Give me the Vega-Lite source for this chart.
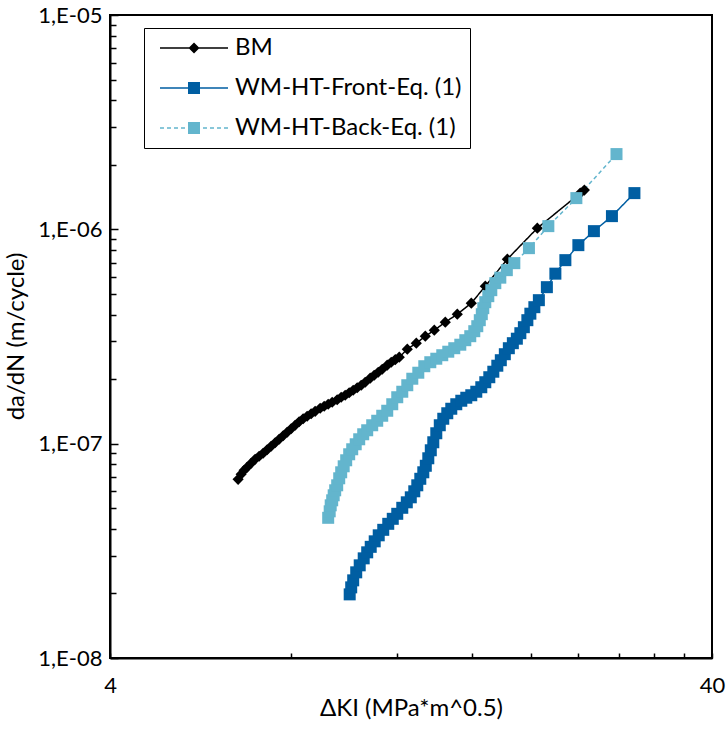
{
  "$schema": "https://vega.github.io/schema/vega-lite/v6.json",
  "width": 602,
  "height": 643,
  "autosize": {"type": "none"},
  "padding": {"left": 110, "top": 15, "right": 14, "bottom": 72},
  "background": "white",
  "config": {
    "view": {"stroke": "black", "strokeWidth": 2},
    "font": "Lato",
    "axis": {"labelFont": "Lato", "titleFont": "Lato", "labelColor": "black", "titleColor": "black", "domainColor": "black", "domainWidth": 2, "tickColor": "black", "tickWidth": 1.5, "grid": false, "labelFontSize": 22, "titleFontSize": 24, "titleFontWeight": "normal", "labelOverlap": false, "labelFlush": false},
    "legend": {"symbolOpacity": 1, "symbolStrokeWidth": 0}
  },
  "data": {"values": [
    {"series": "BM", "dK": 6.529, "dadN": 6.82e-8},
    {"series": "BM", "dK": 6.605, "dadN": 7.197e-8},
    {"series": "BM", "dK": 6.681, "dadN": 7.513e-8},
    {"series": "BM", "dK": 6.758, "dadN": 7.76e-8},
    {"series": "BM", "dK": 6.862, "dadN": 8.1e-8},
    {"series": "BM", "dK": 6.968, "dadN": 8.456e-8},
    {"series": "BM", "dK": 7.076, "dadN": 8.733e-8},
    {"series": "BM", "dK": 7.185, "dadN": 9.019e-8},
    {"series": "BM", "dK": 7.296, "dadN": 9.365e-8},
    {"series": "BM", "dK": 7.408, "dadN": 9.725e-8},
    {"series": "BM", "dK": 7.523, "dadN": 1.0097e-7},
    {"series": "BM", "dK": 7.639, "dadN": 1.0484e-7},
    {"series": "BM", "dK": 7.757, "dadN": 1.0886e-7},
    {"series": "BM", "dK": 7.876, "dadN": 1.1304e-7},
    {"series": "BM", "dK": 7.998, "dadN": 1.1737e-7},
    {"series": "BM", "dK": 8.121, "dadN": 1.2188e-7},
    {"series": "BM", "dK": 8.246, "dadN": 1.2655e-7},
    {"series": "BM", "dK": 8.374, "dadN": 1.307e-7},
    {"series": "BM", "dK": 8.503, "dadN": 1.3426e-7},
    {"series": "BM", "dK": 8.634, "dadN": 1.3793e-7},
    {"series": "BM", "dK": 8.767, "dadN": 1.416e-7},
    {"series": "BM", "dK": 8.937, "dadN": 1.4632e-7},
    {"series": "BM", "dK": 9.075, "dadN": 1.495e-7},
    {"series": "BM", "dK": 9.215, "dadN": 1.5274e-7},
    {"series": "BM", "dK": 9.357, "dadN": 1.5606e-7},
    {"series": "BM", "dK": 9.538, "dadN": 1.6032e-7},
    {"series": "BM", "dK": 9.685, "dadN": 1.6467e-7},
    {"series": "BM", "dK": 9.834, "dadN": 1.6824e-7},
    {"series": "BM", "dK": 9.986, "dadN": 1.7282e-7},
    {"series": "BM", "dK": 10.14, "dadN": 1.7754e-7},
    {"series": "BM", "dK": 10.297, "dadN": 1.8238e-7},
    {"series": "BM", "dK": 10.456, "dadN": 1.8735e-7},
    {"series": "BM", "dK": 10.617, "dadN": 1.9349e-7},
    {"series": "BM", "dK": 10.822, "dadN": 2.0203e-7},
    {"series": "BM", "dK": 10.989, "dadN": 2.0862e-7},
    {"series": "BM", "dK": 11.159, "dadN": 2.1544e-7},
    {"series": "BM", "dK": 11.331, "dadN": 2.2251e-7},
    {"series": "BM", "dK": 11.55, "dadN": 2.323e-7},
    {"series": "BM", "dK": 11.729, "dadN": 2.3989e-7},
    {"series": "BM", "dK": 11.91, "dadN": 2.4643e-7},
    {"series": "BM", "dK": 12.094, "dadN": 2.5315e-7},
    {"series": "BM", "dK": 12.471, "dadN": 2.759e-7},
    {"series": "BM", "dK": 12.908, "dadN": 2.943e-7},
    {"series": "BM", "dK": 13.36, "dadN": 3.1725e-7},
    {"series": "BM", "dK": 13.828, "dadN": 3.3838e-7},
    {"series": "BM", "dK": 14.421, "dadN": 3.688e-7},
    {"series": "BM", "dK": 15.099, "dadN": 4.019e-7},
    {"series": "BM", "dK": 15.929, "dadN": 4.523e-7},
    {"series": "BM", "dK": 16.806, "dadN": 5.43e-7},
    {"series": "BM", "dK": 18.285, "dadN": 7.259e-7},
    {"series": "BM", "dK": 20.507, "dadN": 1.013e-6},
    {"series": "BM", "dK": 24.17, "dadN": 1.4757e-6},
    {"series": "BM", "dK": 24.55, "dadN": 1.5241e-6},
    {"series": "WM-HT-Front-Eq. (1)", "dK": 10.005, "dadN": 1.981e-8},
    {"series": "WM-HT-Front-Eq. (1)", "dK": 10.063, "dadN": 2.136e-8},
    {"series": "WM-HT-Front-Eq. (1)", "dK": 10.14, "dadN": 2.303e-8},
    {"series": "WM-HT-Front-Eq. (1)", "dK": 10.258, "dadN": 2.51e-8},
    {"series": "WM-HT-Front-Eq. (1)", "dK": 10.396, "dadN": 2.706e-8},
    {"series": "WM-HT-Front-Eq. (1)", "dK": 10.556, "dadN": 2.917e-8},
    {"series": "WM-HT-Front-Eq. (1)", "dK": 10.698, "dadN": 3.112e-8},
    {"series": "WM-HT-Front-Eq. (1)", "dK": 10.843, "dadN": 3.301e-8},
    {"series": "WM-HT-Front-Eq. (1)", "dK": 11.01, "dadN": 3.502e-8},
    {"series": "WM-HT-Front-Eq. (1)", "dK": 11.18, "dadN": 3.736e-8},
    {"series": "WM-HT-Front-Eq. (1)", "dK": 11.375, "dadN": 3.963e-8},
    {"series": "WM-HT-Front-Eq. (1)", "dK": 11.595, "dadN": 4.227e-8},
    {"series": "WM-HT-Front-Eq. (1)", "dK": 11.797, "dadN": 4.461e-8},
    {"series": "WM-HT-Front-Eq. (1)", "dK": 12.001, "dadN": 4.707e-8},
    {"series": "WM-HT-Front-Eq. (1)", "dK": 12.234, "dadN": 5.021e-8},
    {"series": "WM-HT-Front-Eq. (1)", "dK": 12.447, "dadN": 5.326e-8},
    {"series": "WM-HT-Front-Eq. (1)", "dK": 12.639, "dadN": 5.62e-8},
    {"series": "WM-HT-Front-Eq. (1)", "dK": 12.809, "dadN": 5.995e-8},
    {"series": "WM-HT-Front-Eq. (1)", "dK": 12.957, "dadN": 6.394e-8},
    {"series": "WM-HT-Front-Eq. (1)", "dK": 13.107, "dadN": 6.857e-8},
    {"series": "WM-HT-Front-Eq. (1)", "dK": 13.258, "dadN": 7.353e-8},
    {"series": "WM-HT-Front-Eq. (1)", "dK": 13.386, "dadN": 7.886e-8},
    {"series": "WM-HT-Front-Eq. (1)", "dK": 13.514, "dadN": 8.547e-8},
    {"series": "WM-HT-Front-Eq. (1)", "dK": 13.644, "dadN": 9.315e-8},
    {"series": "WM-HT-Front-Eq. (1)", "dK": 13.775, "dadN": 1.0152e-7},
    {"series": "WM-HT-Front-Eq. (1)", "dK": 13.934, "dadN": 1.1183e-7},
    {"series": "WM-HT-Front-Eq. (1)", "dK": 14.121, "dadN": 1.2188e-7},
    {"series": "WM-HT-Front-Eq. (1)", "dK": 14.311, "dadN": 1.307e-7},
    {"series": "WM-HT-Front-Eq. (1)", "dK": 14.532, "dadN": 1.3865e-7},
    {"series": "WM-HT-Front-Eq. (1)", "dK": 14.756, "dadN": 1.4552e-7},
    {"series": "WM-HT-Front-Eq. (1)", "dK": 15.041, "dadN": 1.5274e-7},
    {"series": "WM-HT-Front-Eq. (1)", "dK": 15.332, "dadN": 1.5859e-7},
    {"series": "WM-HT-Front-Eq. (1)", "dK": 15.628, "dadN": 1.6379e-7},
    {"series": "WM-HT-Front-Eq. (1)", "dK": 15.929, "dadN": 1.6824e-7},
    {"series": "WM-HT-Front-Eq. (1)", "dK": 16.237, "dadN": 1.7469e-7},
    {"series": "WM-HT-Front-Eq. (1)", "dK": 16.551, "dadN": 1.8336e-7},
    {"series": "WM-HT-Front-Eq. (1)", "dK": 16.806, "dadN": 1.9349e-7},
    {"series": "WM-HT-Front-Eq. (1)", "dK": 17.066, "dadN": 2.0418e-7},
    {"series": "WM-HT-Front-Eq. (1)", "dK": 17.33, "dadN": 2.1661e-7},
    {"series": "WM-HT-Front-Eq. (1)", "dK": 17.597, "dadN": 2.3104e-7},
    {"series": "WM-HT-Front-Eq. (1)", "dK": 17.834, "dadN": 2.4511e-7},
    {"series": "WM-HT-Front-Eq. (1)", "dK": 18.11, "dadN": 2.6144e-7},
    {"series": "WM-HT-Front-Eq. (1)", "dK": 18.39, "dadN": 2.7885e-7},
    {"series": "WM-HT-Front-Eq. (1)", "dK": 18.674, "dadN": 2.9431e-7},
    {"series": "WM-HT-Front-Eq. (1)", "dK": 18.962, "dadN": 3.0884e-7},
    {"series": "WM-HT-Front-Eq. (1)", "dK": 19.218, "dadN": 3.2765e-7},
    {"series": "WM-HT-Front-Eq. (1)", "dK": 19.478, "dadN": 3.4948e-7},
    {"series": "WM-HT-Front-Eq. (1)", "dK": 19.74, "dadN": 3.7679e-7},
    {"series": "WM-HT-Front-Eq. (1)", "dK": 19.968, "dadN": 4.0406e-7},
    {"series": "WM-HT-Front-Eq. (1)", "dK": 20.276, "dadN": 4.3331e-7},
    {"series": "WM-HT-Front-Eq. (1)", "dK": 20.628, "dadN": 4.6716e-7},
    {"series": "WM-HT-Front-Eq. (1)", "dK": 21.27, "dadN": 5.3723e-7},
    {"series": "WM-HT-Front-Eq. (1)", "dK": 21.973, "dadN": 6.2113e-7},
    {"series": "WM-HT-Front-Eq. (1)", "dK": 22.829, "dadN": 7.1814e-7},
    {"series": "WM-HT-Front-Eq. (1)", "dK": 23.993, "dadN": 8.438e-7},
    {"series": "WM-HT-Front-Eq. (1)", "dK": 25.462, "dadN": 9.808e-7},
    {"series": "WM-HT-Front-Eq. (1)", "dK": 27.28, "dadN": 1.1525e-6},
    {"series": "WM-HT-Front-Eq. (1)", "dK": 29.73, "dadN": 1.4757e-6},
    {"series": "WM-HT-Back-Eq. (1)", "dK": 9.215, "dadN": 4.509e-8},
    {"series": "WM-HT-Back-Eq. (1)", "dK": 9.268, "dadN": 4.835e-8},
    {"series": "WM-HT-Back-Eq. (1)", "dK": 9.304, "dadN": 5.157e-8},
    {"series": "WM-HT-Back-Eq. (1)", "dK": 9.357, "dadN": 5.442e-8},
    {"series": "WM-HT-Back-Eq. (1)", "dK": 9.411, "dadN": 5.743e-8},
    {"series": "WM-HT-Back-Eq. (1)", "dK": 9.465, "dadN": 6.06e-8},
    {"series": "WM-HT-Back-Eq. (1)", "dK": 9.538, "dadN": 6.394e-8},
    {"series": "WM-HT-Back-Eq. (1)", "dK": 9.612, "dadN": 6.894e-8},
    {"series": "WM-HT-Back-Eq. (1)", "dK": 9.685, "dadN": 7.353e-8},
    {"series": "WM-HT-Back-Eq. (1)", "dK": 9.778, "dadN": 7.843e-8},
    {"series": "WM-HT-Back-Eq. (1)", "dK": 9.872, "dadN": 8.366e-8},
    {"series": "WM-HT-Back-Eq. (1)", "dK": 9.986, "dadN": 8.923e-8},
    {"series": "WM-HT-Back-Eq. (1)", "dK": 10.102, "dadN": 9.416e-8},
    {"series": "WM-HT-Back-Eq. (1)", "dK": 10.238, "dadN": 9.936e-8},
    {"series": "WM-HT-Back-Eq. (1)", "dK": 10.376, "dadN": 1.0484e-7},
    {"series": "WM-HT-Back-Eq. (1)", "dK": 10.536, "dadN": 1.1063e-7},
    {"series": "WM-HT-Back-Eq. (1)", "dK": 10.698, "dadN": 1.1549e-7},
    {"series": "WM-HT-Back-Eq. (1)", "dK": 10.905, "dadN": 1.2188e-7},
    {"series": "WM-HT-Back-Eq. (1)", "dK": 11.116, "dadN": 1.2791e-7},
    {"series": "WM-HT-Back-Eq. (1)", "dK": 11.331, "dadN": 1.3498e-7},
    {"series": "WM-HT-Back-Eq. (1)", "dK": 11.55, "dadN": 1.4242e-7},
    {"series": "WM-HT-Back-Eq. (1)", "dK": 11.774, "dadN": 1.5274e-7},
    {"series": "WM-HT-Back-Eq. (1)", "dK": 12.001, "dadN": 1.6467e-7},
    {"series": "WM-HT-Back-Eq. (1)", "dK": 12.234, "dadN": 1.747e-7},
    {"series": "WM-HT-Back-Eq. (1)", "dK": 12.471, "dadN": 1.8735e-7},
    {"series": "WM-HT-Back-Eq. (1)", "dK": 12.712, "dadN": 2.0091e-7},
    {"series": "WM-HT-Back-Eq. (1)", "dK": 13.007, "dadN": 2.1429e-7},
    {"series": "WM-HT-Back-Eq. (1)", "dK": 13.309, "dadN": 2.298e-7},
    {"series": "WM-HT-Back-Eq. (1)", "dK": 13.618, "dadN": 2.3989e-7},
    {"series": "WM-HT-Back-Eq. (1)", "dK": 13.934, "dadN": 2.4909e-7},
    {"series": "WM-HT-Back-Eq. (1)", "dK": 14.256, "dadN": 2.5864e-7},
    {"series": "WM-HT-Back-Eq. (1)", "dK": 14.587, "dadN": 2.6856e-7},
    {"series": "WM-HT-Back-Eq. (1)", "dK": 14.926, "dadN": 2.7885e-7},
    {"series": "WM-HT-Back-Eq. (1)", "dK": 15.274, "dadN": 2.8954e-7},
    {"series": "WM-HT-Back-Eq. (1)", "dK": 15.569, "dadN": 3.0391e-7},
    {"series": "WM-HT-Back-Eq. (1)", "dK": 15.868, "dadN": 3.1725e-7},
    {"series": "WM-HT-Back-Eq. (1)", "dK": 16.113, "dadN": 3.3476e-7},
    {"series": "WM-HT-Back-Eq. (1)", "dK": 16.299, "dadN": 3.5326e-7},
    {"series": "WM-HT-Back-Eq. (1)", "dK": 16.456, "dadN": 3.7679e-7},
    {"series": "WM-HT-Back-Eq. (1)", "dK": 16.583, "dadN": 4.019e-7},
    {"series": "WM-HT-Back-Eq. (1)", "dK": 16.678, "dadN": 4.2867e-7},
    {"series": "WM-HT-Back-Eq. (1)", "dK": 16.806, "dadN": 4.5723e-7},
    {"series": "WM-HT-Back-Eq. (1)", "dK": 17.001, "dadN": 4.8769e-7},
    {"series": "WM-HT-Back-Eq. (1)", "dK": 17.197, "dadN": 5.2017e-7},
    {"series": "WM-HT-Back-Eq. (1)", "dK": 17.463, "dadN": 5.6083e-7},
    {"series": "WM-HT-Back-Eq. (1)", "dK": 17.8, "dadN": 5.9499e-7},
    {"series": "WM-HT-Back-Eq. (1)", "dK": 18.249, "dadN": 6.4494e-7},
    {"series": "WM-HT-Back-Eq. (1)", "dK": 18.78, "dadN": 6.9534e-7},
    {"series": "WM-HT-Back-Eq. (1)", "dK": 19.86, "dadN": 8.17e-7},
    {"series": "WM-HT-Back-Eq. (1)", "dK": 21.39, "dadN": 1.035e-6},
    {"series": "WM-HT-Back-Eq. (1)", "dK": 23.81, "dadN": 1.3985e-6},
    {"series": "WM-HT-Back-Eq. (1)", "dK": 27.76, "dadN": 2.2443e-6}
  ]},
  "encoding": {
    "x": {
      "field": "dK", "type": "quantitative",
      "scale": {"type": "log", "domain": [4, 40], "nice": false},
      "axis": {
        "title": "ΔKI (MPa*m^0.5)",
        "values": [4, 8, 12, 16, 20, 24, 28, 32, 36, 40],
        "labelExpr": "datum.value == 4 || datum.value == 40 ? datum.value + '' : ''",
        "tickSize": -5,
        "labelPadding": 39,
        "labelBaseline": "alphabetic",
        "titleY": 50,
        "titleBaseline": "middle"
      }
    },
    "y": {
      "field": "dadN", "type": "quantitative",
      "scale": {"type": "log", "domain": [1e-8, 1e-5], "nice": false},
      "axis": {
        "title": "da/dN (m/cycle)",
        "values": [1e-8, 2e-8, 3e-8, 4e-8, 5e-8, 6e-8, 7e-8, 8e-8, 9e-8, 1e-7, 2e-7, 3e-7, 4e-7, 5e-7, 6e-7, 7e-7, 8e-7, 9e-7, 1e-6, 2e-6, 3e-6, 4e-6, 5e-6, 6e-6, 7e-6, 8e-6, 9e-6, 1e-5],
        "labelExpr": "abs(log(datum.value)/LN10 - round(log(datum.value)/LN10)) < 0.001 ? '1,E-0' + (-round(log(datum.value)/LN10)) : ''",
        "tickSize": {"condition": {"test": "abs(log(datum.value)/LN10 - round(log(datum.value)/LN10)) < 0.001", "value": -8}, "value": -6},
        "labelPadding": 16,
        "labelBaseline": "middle",
        "titleX": -94,
        "titleY": 321,
        "titleAngle": -90,
        "titleBaseline": "middle",
        "titleAlign": "center"
      }
    },
    "color": {
      "field": "series", "type": "nominal",
      "scale": {"domain": ["BM", "WM-HT-Front-Eq. (1)", "WM-HT-Back-Eq. (1)"], "range": ["#000000", "#005EA2", "#63B5CD"]},
      "legend": {
        "orient": "none",
        "legendX": 34,
        "legendY": 13,
        "title": null,
        "strokeColor": "black",
        "padding": 8,
        "symbolSize": 484,
        "symbolOffset": 4,
        "symbolOpacity": 1,
        "symbolStrokeWidth": 0,
        "labelOffset": 55,
        "rowPadding": 16,
        "labelFont": "Lato",
        "labelFontSize": 24,
        "labelColor": "black",
        "labelLimit": 500
      }
    }
  },
  "layer": [
    {
      "mark": {"type": "line", "strokeWidth": 1.5},
      "encoding": {
        "strokeDash": {"field": "series", "type": "nominal", "scale": {"domain": ["BM", "WM-HT-Front-Eq. (1)", "WM-HT-Back-Eq. (1)"], "range": [[1, 0], [1, 0], [4, 3]]}, "legend": null}
      }
    },
    {
      "transform": [{"filter": "datum.series === 'BM'"}],
      "mark": {"type": "point", "filled": true, "opacity": 1, "shape": "diamond", "size": 125}
    },
    {
      "transform": [{"filter": "datum.series !== 'BM'"}],
      "mark": {"type": "point", "filled": true, "opacity": 1, "shape": "square", "size": 144}
    },
    {
      "mark": {"type": "point", "filled": true, "opacity": 0},
      "encoding": {
        "shape": {
          "field": "series", "type": "nominal",
          "scale": {"domain": ["BM", "WM-HT-Front-Eq. (1)", "WM-HT-Back-Eq. (1)"], "range": [
            "M-0.727,-0.068H5.455V0.068H-0.727Z M2.364,-0.5L2.864,0L2.364,0.5L1.864,0Z",
            "M-0.727,-0.068H5.455V0.068H-0.727Z M1.818,-0.545H2.909V0.545H1.818Z",
            "M-0.727,-0.068H-0.364V0.068H-0.727Z M-0.091,-0.068H0.273V0.068H-0.091Z M0.545,-0.068H0.909V0.068H0.545Z M1.182,-0.068H1.545V0.068H1.182Z M1.818,-0.545H2.909V0.545H1.818Z M3.182,-0.068H3.545V0.068H3.182Z M3.818,-0.068H4.182V0.068H3.818Z M4.455,-0.068H4.818V0.068H4.455Z M5.091,-0.068H5.455V0.068H5.091Z"
          ]}
        }
      }
    }
  ]
}
